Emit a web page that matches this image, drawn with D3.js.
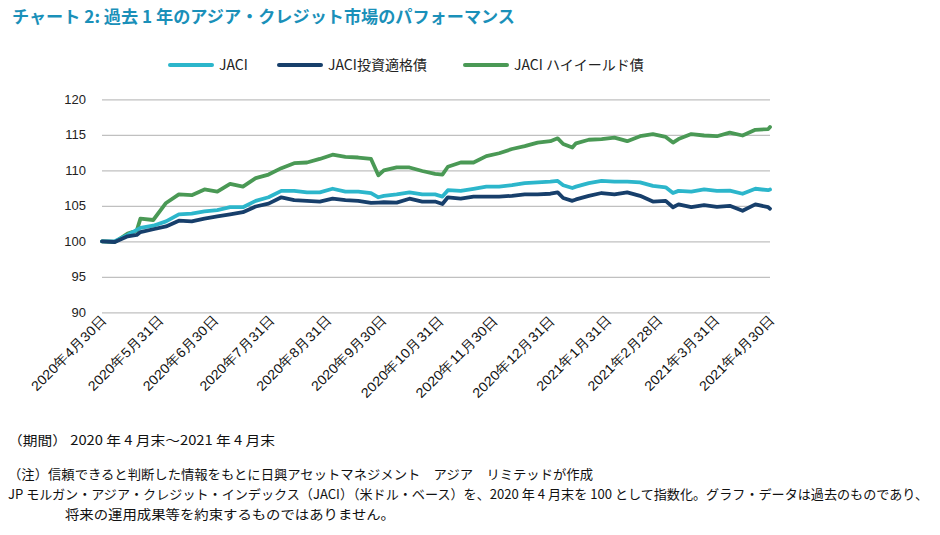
<!DOCTYPE html>
<html><head><meta charset="utf-8">
<script src="https://cdn.jsdelivr.net/npm/d3@7"></script>
<style>
body{margin:0;background:#fff;}
svg{display:block;font-family:"Noto Sans CJK JP","Noto Sans",sans-serif;}
</style></head>
<body>
<svg id="chart" width="940" height="535"></svg>
<script>
const dates = ["2020-04-30","2020-05-07","2020-05-14","2020-05-19","2020-05-21","2020-05-28","2020-06-04","2020-06-11","2020-06-18","2020-06-25",
"2020-07-02","2020-07-09","2020-07-16","2020-07-23","2020-07-30","2020-08-06","2020-08-13","2020-08-20","2020-08-27","2020-09-03",
"2020-09-10","2020-09-17","2020-09-24","2020-09-28","2020-10-01","2020-10-08","2020-10-15","2020-10-22","2020-10-29","2020-11-02",
"2020-11-05","2020-11-12","2020-11-19","2020-11-26","2020-12-03","2020-12-10","2020-12-17","2020-12-24","2020-12-31","2021-01-04",
"2021-01-07","2021-01-12","2021-01-14","2021-01-21","2021-01-28","2021-02-04","2021-02-11","2021-02-18","2021-02-25","2021-03-04",
"2021-03-08","2021-03-11","2021-03-18","2021-03-25","2021-04-01","2021-04-08","2021-04-15","2021-04-22","2021-04-29","2021-04-30"];

const jaci = [100.0,100.0,100.9,101.6,101.9,102.2,102.8,103.8,103.9,104.2,
104.4,104.8,104.8,105.7,106.2,107.1,107.1,106.9,106.9,107.4,
107.0,107.0,106.8,106.2,106.4,106.6,106.9,106.6,106.6,106.3,
107.2,107.1,107.4,107.7,107.7,107.9,108.2,108.3,108.4,108.5,
107.9,107.5,107.7,108.2,108.5,108.4,108.4,108.3,107.8,107.6,
106.8,107.1,107.0,107.3,107.1,107.15,106.7,107.4,107.2,107.3];

const jaciIG = [100.0,99.9,100.7,100.9,101.3,101.7,102.1,102.9,102.8,103.2,
103.5,103.8,104.1,104.9,105.3,106.2,105.8,105.7,105.6,106.0,
105.8,105.7,105.4,105.45,105.5,105.45,106.0,105.6,105.6,105.25,
106.2,106.0,106.3,106.3,106.3,106.4,106.6,106.6,106.7,106.9,
106.1,105.7,105.9,106.4,106.8,106.6,106.9,106.4,105.6,105.7,
104.8,105.2,104.8,105.1,104.85,105.0,104.3,105.2,104.8,104.6];

const jaciHY = [100.0,99.9,101.1,101.5,103.2,103.0,105.4,106.6,106.5,107.3,
107.0,108.1,107.7,108.9,109.4,110.3,111.0,111.1,111.6,112.2,
111.9,111.8,111.6,109.3,110.0,110.4,110.4,109.9,109.5,109.4,
110.5,111.1,111.1,112.0,112.4,113.0,113.4,113.9,114.1,114.5,
113.7,113.2,113.8,114.3,114.4,114.6,114.1,114.8,115.1,114.7,
113.9,114.4,115.1,114.9,114.8,115.3,114.9,115.7,115.8,116.1];

const seriesNames = ["JACI","JACI投資適格債","JACI ハイイールド債"];
const seriesColors = ["#2cb6cb","#173f6b","#4a9955"];
const yTicks = [90,95,100,105,110,115,120];
const xTickDates = ["2020-04-30","2020-05-31","2020-06-30","2020-07-31","2020-08-31","2020-09-30","2020-10-31",
"2020-11-30","2020-12-31","2021-01-31","2021-02-28","2021-03-31","2021-04-30"];
const xTickLabels = ["2020年4月30日","2020年5月31日","2020年6月30日","2020年7月31日","2020年8月31日","2020年9月30日","2020年10月31日",
"2020年11月30日","2020年12月31日","2021年1月31日","2021年2月28日","2021年3月31日","2021年4月30日"];
const titleText = "チャート 2: 過去 1 年のアジア・クレジット市場のパフォーマンス";
const footLines = ["（期間） 2020 年 4 月末～2021 年 4 月末",
"（注）信頼できると判断した情報をもとに日興アセットマネジメント　アジア　リミテッドが作成",
"JP モルガン・アジア・クレジット・インデックス（JACI）（米ドル・ベース）を、2020 年 4 月末を 100 として指数化。グラフ・データは過去のものであり、",
"将来の運用成果等を約束するものではありません。"];

const parse = d3.timeParse("%Y-%m-%d");
const svg = d3.select("#chart");
const x = d3.scaleTime().domain([parse("2020-04-30"), parse("2021-04-30")]).range([102, 770]);
const y = d3.scaleLinear().domain([90,120]).range([312.3, 99.3]);

// title
svg.append("text").attr("x",12).attr("y",23).attr("fill","#1a90b9")
  .attr("font-size",16.5).attr("font-weight","bold").attr("textLength",503).attr("lengthAdjust","spacingAndGlyphs")
  .text(titleText);

// gridlines
const yAxis = d3.axisLeft(y).tickValues(yTicks).tickSize(-(770-102)).tickPadding(16);
const gy = svg.append("g").attr("transform","translate(102,0)").call(yAxis);
gy.select(".domain").remove();
gy.selectAll(".tick line").attr("stroke","#c0c0c0").attr("stroke-width",1.3);
gy.selectAll(".tick text").attr("fill","#222").attr("font-size",13).attr("font-family","Liberation Sans, Arial, sans-serif");

// x axis labels
const xAxis = d3.axisBottom(x).tickValues(xTickDates.map(parse)).tickSize(0)
  .tickFormat((d,i)=>xTickLabels[i]);
const gx = svg.append("g").attr("transform","translate(0,312)").call(xAxis);
gx.select(".domain").remove();
gx.selectAll(".tick text")
  .attr("font-size",13.5).attr("fill","#111")
  .attr("text-anchor","end")
  .attr("dy",0).attr("y",0)
  .attr("textLength",(d,i)=>xTickLabels[i].length*10)
  .attr("lengthAdjust","spacingAndGlyphs")
  .attr("transform","translate(5,9) rotate(-45)");

// lines
const allSeries = [jaci, jaciIG, jaciHY];
const line = d3.line().x((d,i)=>x(parse(dates[i]))).y(d=>y(d)).curve(d3.curveLinear);
const drawOrder = [2,0,1];
drawOrder.forEach(si=>{
  svg.append("path").datum(allSeries[si]).attr("d",line)
    .attr("fill","none").attr("stroke",seriesColors[si]).attr("stroke-width",3.8)
    .attr("stroke-linejoin","round").attr("stroke-linecap","round");
});

// legend
const legX = [170, 279, 465];
const lg = svg.append("g");
seriesNames.forEach((n,i)=>{
  lg.append("line").attr("x1",legX[i]).attr("x2",legX[i]+42).attr("y1",65).attr("y2",65)
    .attr("stroke",seriesColors[i]).attr("stroke-width",4).attr("stroke-linecap","round");
  lg.append("text").attr("x",legX[i]+49).attr("y",70).attr("font-size",14).attr("fill","#222").text(n);
});

// footer
const fy = [445, 479, 499, 519];
const fx = [8, 8, 8, 65];
const fw = [267, 585, 920, 330];
footLines.forEach((t,i)=>{
  svg.append("text").attr("x",fx[i]).attr("y",fy[i]).attr("font-size",13).attr("fill","#111")
    .attr("textLength",fw[i]).attr("lengthAdjust","spacingAndGlyphs").text(t);
});
</script>
</body></html>
